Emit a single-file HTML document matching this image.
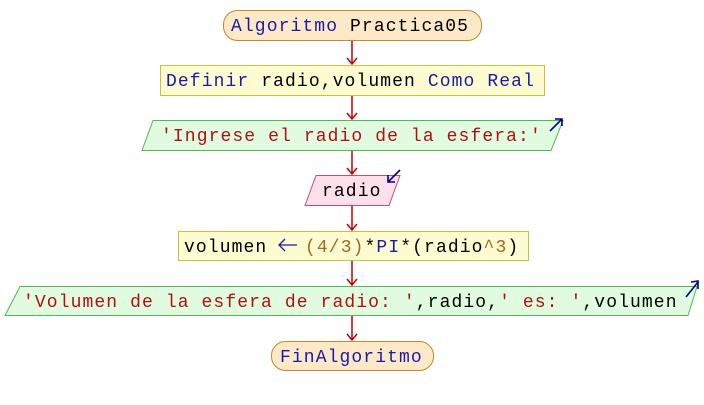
<!DOCTYPE html>
<html><head><style>body{margin:0;background:#fff}svg{display:block}text{font-family:"Liberation Mono","Courier New",monospace;font-size:18px;letter-spacing:1.1px}</style></head><body>
<svg width="704" height="405" xmlns="http://www.w3.org/2000/svg">
<defs><marker id="a" markerWidth="12" markerHeight="12" refX="8" refY="6" orient="auto" markerUnits="userSpaceOnUse"><path d="M2,1 L8,6 L2,11" fill="none" stroke="#c00000" stroke-width="1.5"/></marker></defs>
<g stroke="#c00000" stroke-width="1.5" marker-end="url(#a)">
<line x1="352" y1="40" x2="352" y2="64"/><line x1="352" y1="95" x2="352" y2="119"/><line x1="352" y1="150" x2="352" y2="174"/><line x1="352" y1="205" x2="352" y2="230"/><line x1="352" y1="260" x2="352" y2="285"/><line x1="352" y1="315" x2="352" y2="340"/>
</g>
<rect x="223.5" y="10.5" width="258" height="30" rx="14" fill="#fde9c8" stroke="#c8862a"/>
<rect x="160.5" y="65.5" width="384" height="30" fill="#fdfbd0" stroke="#c8c040"/>
<polygon points="153,120.5 563,120.5 551,150.5 142,150.5" fill="#e0fbe0" stroke="#50b850"/>
<polygon points="316,175.5 400,175.5 389,205.5 305,205.5" fill="#fde0ea" stroke="#c05070"/>
<rect x="178.5" y="231.5" width="350" height="29" fill="#fdfbd0" stroke="#c8c040"/>
<polygon points="20,286.5 697,286.5 688,315.5 5,315.5" fill="#e0fbe0" stroke="#50b850"/>
<rect x="271.5" y="341.5" width="162" height="29" rx="14" fill="#fde9c8" stroke="#c8862a"/>
<g stroke="#00008a" stroke-width="1.6" fill="none">
<path d="M550,131 L562,119 M555,119 L562,119 L562,126"/>
<path d="M400,170 L388,182 M388,175 L388,182 L395,182"/>
<path d="M686,297 L698,282 M691,282 L698,281 L698,289"/>
<path d="M279,245 L297,245 M285,239 L279,245 L285,251" stroke="#1a1aa8" stroke-width="1.3"/>
</g>
<text x="231" y="31" fill="#1a1aa8">Algoritmo <tspan fill="#000">Practica05</tspan></text>
<text x="166" y="86" fill="#1a1aa8">Definir <tspan fill="#000">radio,volumen</tspan> Como Real</text>
<text x="161" y="141" fill="#b01010">'Ingrese el radio de la esfera:'</text>
<text x="322" y="196" fill="#000">radio</text>
<text x="184" y="252" fill="#000">volumen</text>
<text x="305" y="252" fill="#000"><tspan fill="#a06828">(4/3)</tspan>*<tspan fill="#1a1aa8">PI</tspan>*(radio<tspan fill="#a06828">^3</tspan>)</text>
<text x="23" y="307" fill="#b01010">'Volumen de la esfera de radio: '<tspan fill="#000">,radio,</tspan>' es: '<tspan fill="#000">,volumen</tspan></text>
<text x="280" y="362" fill="#1a1aa8">FinAlgoritmo</text>
</svg>
</body></html>
